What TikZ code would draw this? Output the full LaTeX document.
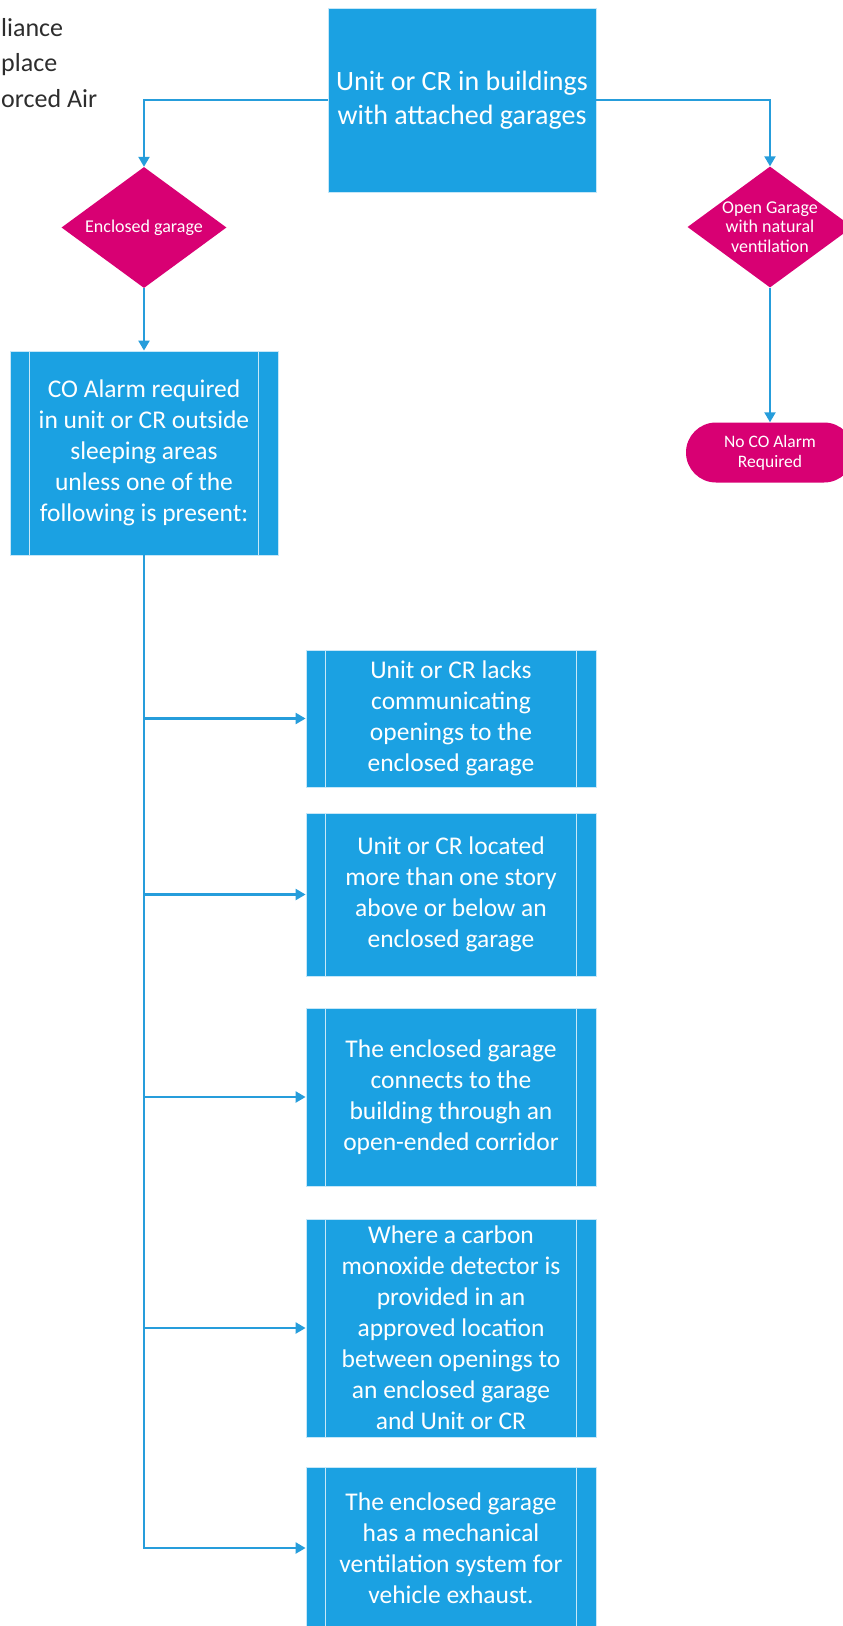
\documentclass[tikz,border=0pt]{standalone}
\usepackage{fontspec}
\setmainfont{Carlito}
\usepackage{xcolor}
\usepackage{tikz}
\usetikzlibrary{shapes,arrows.meta,positioning}
\definecolor{flowblue}{RGB}{27,161,226}
\definecolor{linkblue}{RGB}{38,157,219}
\definecolor{decmagenta}{RGB}{216,0,115}
\definecolor{sidegray}{RGB}{45,45,45}
\tikzset{>={Triangle[length=10pt,width=11pt]}}

\begin{document}
\begin{tikzpicture}[x=1pt, y=-1pt,
  flow/.style={->, draw=linkblue, line width=2.2pt},
  process/.style={rectangle, fill=flowblue, draw=white!75!flowblue, line width=0.8pt, text=white, align=center, inner sep=0pt},
  subproc/.style={process, minimum width=290pt, font=\fontsize{25.5}{31}\selectfont,
    path picture={\draw[white!75!flowblue, line width=0.8pt]
      ([xshift=19.5pt]path picture bounding box.north west) -- ([xshift=19.5pt]path picture bounding box.south west)
      ([xshift=-19.5pt]path picture bounding box.north east) -- ([xshift=-19.5pt]path picture bounding box.south east);}},
  decision/.style={diamond, fill=decmagenta, minimum width=165pt, minimum height=121pt, inner sep=0pt},
  dectext/.style={text=white, align=center, inner sep=0pt, font=\fontsize{18}{19.5}\selectfont},
  terminal/.style={rectangle, rounded corners=30pt, fill=decmagenta, text=white, align=center, minimum width=168pt, minimum height=60pt, inner sep=0pt, font=\fontsize{17.5}{20}\selectfont},
  sidetext/.style={text=sidegray, align=left, inner sep=0pt, font=\fontsize{26}{35.5}\selectfont}]
  \useasboundingbox (0,0) rectangle (843,1626);
  \node[sidetext, anchor=west] (legend) at (1,63) {liance\\place\\orced Air};
  \node[process, minimum width=268pt, minimum height=184pt, font=\fontsize{28}{34}\selectfont] (unit) at (462,100) {Unit or CR in buildings\\with attached garages};
  \node[decision] (enclosed) at (144,227.5) {};
  \node[dectext] (enclosed-txt) at (enclosed) {Enclosed garage};
  \node[decision] (opengar) at (770,227) {};
  \node[dectext] (opengar-txt) at (opengar) {Open Garage\\with natural\\ventilation};
  \node[terminal] (noalarm) at (770,452.5) {No CO Alarm\\Required};
  \node[subproc, minimum width=268pt, minimum height=204pt] (coalarm) at (144,453) {CO Alarm required\\in unit or CR outside\\sleeping areas\\unless one of the\\following is present:};
  \node[subproc, minimum height=137pt] (opt1) at (451,718.5) {Unit or CR lacks\\communicating\\openings to the\\enclosed garage};
  \node[subproc, minimum height=163pt] (opt2) at (451,894.5) {Unit or CR located\\more than one story\\above or below an\\enclosed garage};
  \node[subproc, minimum height=178pt] (opt3) at (451,1097) {The enclosed garage\\connects to the\\building through an\\open-ended corridor};
  \node[subproc, minimum height=218pt] (opt4) at (451,1328) {Where a carbon\\monoxide detector is\\provided in an\\approved location\\between openings to\\an enclosed garage\\and Unit or CR};
  \node[subproc, minimum height=162pt] (opt5) at (451,1548) {The enclosed garage\\has a mechanical\\ventilation system for\\vehicle exhaust.};
  \draw[flow] (unit.west) -| (enclosed.north);
  \draw[flow] (unit.east) -| (opengar.north);
  \draw[flow] (enclosed.south) -- (coalarm.north);
  \draw[flow] (opengar.south) -- (noalarm.north);
  \foreach \k in {1,...,5}
    \draw[flow] (coalarm.south) |- (opt\k.west);
\end{tikzpicture}
\end{document}
